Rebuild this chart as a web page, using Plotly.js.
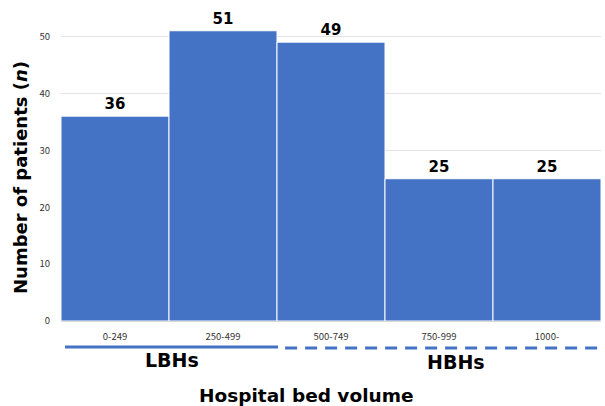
<!DOCTYPE html>
<html><head><meta charset="utf-8">
<script src="https://cdn.plot.ly/plotly-3.0.1.min.js"></script>
<style>body{margin:0;background:#fff}#c{width:605px;height:406px}</style>
</head><body><div id="c"></div>
<script>
const categories = ["0-249", "250-499", "500-749", "750-999", "1000-"];
const patients = [36, 51, 49, 25, 25];
const yTicks = [0, 10, 20, 30, 40, 50];
const groupLabels = ["LBHs", "HBHs"];
const xTitle = "Hospital bed volume";
const yTitle = "Number of patients (<i>n</i>)";

const blue = "#4472C4";
const boldFont = (s) => ({family: "DejaVu Sans", size: s, weight: "bold", color: "#000"});
const trace = {
  type: "bar", x: categories, y: patients,
  marker: {color: blue, line: {color: "#ffffff", width: 1}},
  text: patients.map(String), textposition: "outside",
  textfont: boldFont(15),
  cliponaxis: false, hoverinfo: "skip"
};
const layout = {
  width: 605, height: 406,
  margin: {l: 61, r: 4, t: 8, b: 85},
  paper_bgcolor: "#fff", plot_bgcolor: "#fff",
  bargap: 0, showlegend: false,
  xaxis: {type: "category", showgrid: false, ticks: "", ticklabelstandoff: 8,
    tickfont: {family: "Noto Sans CJK JP", size: 9.5, color: "#333"}, showline: false, zeroline: false},
  yaxis: {range: [0, 55], tickvals: yTicks, showgrid: true, gridcolor: "#e3e3e3", gridwidth: 1,
    zeroline: true, zerolinecolor: "#d9d9d9", zerolinewidth: 1,
    tickfont: {family: "Noto Sans CJK JP", size: 9.5, color: "#333"}, ticklabelstandoff: 10},
  shapes: [
    {type: "line", xref: "paper", yref: "paper", x0: 0.0074, x1: 0.402, y0: -0.083, y1: -0.083,
      line: {color: blue, width: 3}},
    {type: "line", xref: "paper", yref: "paper", x0: 0.415, x1: 1.007, y0: -0.086, y1: -0.086,
      line: {color: blue, width: 3, dash: "12px,8px"}}
  ],
  annotations: [
    {xref: "paper", yref: "paper", x: 0.206, y: -0.125, xanchor: "center", yanchor: "middle",
      text: "<b>" + groupLabels[0] + "</b>", showarrow: false, font: boldFont(19)},
    {xref: "paper", yref: "paper", x: 0.731, y: -0.132, xanchor: "center", yanchor: "middle",
      text: "<b>" + groupLabels[1] + "</b>", showarrow: false, font: boldFont(19)},
    {xref: "paper", yref: "paper", x: 0.454, y: -0.238, xanchor: "center", yanchor: "middle",
      text: "<b>" + xTitle + "</b>", showarrow: false, font: boldFont(18.5)},
    {xref: "paper", yref: "paper", x: -0.074, y: 0.457, xanchor: "center", yanchor: "middle",
      textangle: -90, text: "<b>" + yTitle + "</b>", showarrow: false, font: boldFont(18)}
  ]
};
Plotly.newPlot("c", [trace], layout, {displayModeBar: false, staticPlot: true});
</script></body></html>
